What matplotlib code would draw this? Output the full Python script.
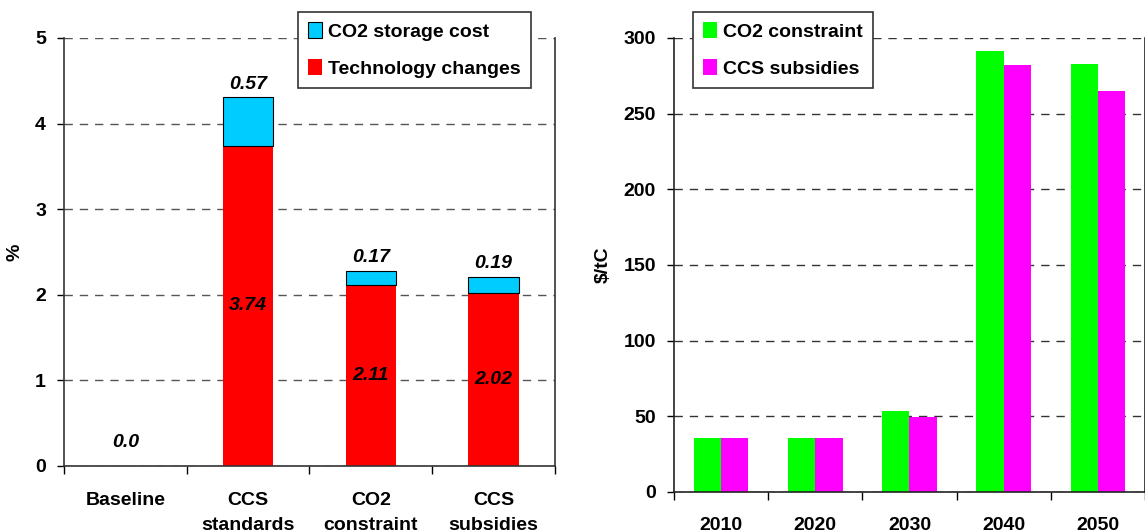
import numpy as np
import matplotlib
matplotlib.use("Agg")
import matplotlib.pyplot as plt
from matplotlib.ticker import FixedLocator

plt.rcParams["font.family"] = ["Liberation Sans", "DejaVu Sans"]
plt.rcParams["font.weight"] = "bold"
plt.rcParams["axes.labelweight"] = "bold"

# ── Data ─────────────────────────────────────────────────────────────────────

scenarios = ["Baseline", "CCS\nstandards", "CO2\nconstraint", "CCS\nsubsidies"]
tech_changes = [0.0, 3.74, 2.11, 2.02]
storage_cost = [0.0, 0.57, 0.17, 0.19]

years = ["2010", "2020", "2030", "2040", "2050"]
co2_constraint = [36, 36, 53.5, 291.5, 283]
ccs_subsidies = [36, 36, 49.5, 282, 265]

RED, CYAN, GREEN, MAGENTA = "#FF0000", "#00CCFF", "#00FF00", "#FF00FF"
FS = 14

fig = plt.figure(figsize=(11.45, 5.32), dpi=100)

# ── Left panel: stacked bars ────────────────────────────────────────────────

ax1 = fig.add_axes([0.0559, 0.1241, 0.4288, 0.8045])
x = np.arange(len(scenarios))
w = 0.41
ax1.bar(x, tech_changes, w, color=RED, label="Technology changes", zorder=3)
ax1.bar(x[1:], storage_cost[1:], w, bottom=tech_changes[1:], color=CYAN,
        edgecolor="black", linewidth=0.8, label="CO2 storage cost", zorder=3)

for i in x:
    if tech_changes[i] == 0:
        ax1.text(i, 0.28, f"{tech_changes[i]:.1f}", ha="center", va="center",
                 style="italic", fontsize=FS, zorder=4)
        continue
    ax1.text(i, tech_changes[i] / 2, f"{tech_changes[i]:.2f}", ha="center",
             va="center", style="italic", fontsize=FS, zorder=4)
    ax1.text(i, tech_changes[i] + storage_cost[i] + 0.15, f"{storage_cost[i]:.2f}",
             ha="center", va="center", style="italic", fontsize=FS, zorder=4)

ax1.set_xlim(-0.5, 3.5)
ax1.set_ylim(0, 5)
ax1.set_yticks(range(6))
ax1.set_ylabel("%", fontsize=FS)
ax1.yaxis.set_label_coords(-0.083, 0.5)
ax1.set_xticks(x)
ax1.set_xticklabels(scenarios, fontsize=FS, linespacing=1.6)
ax1.tick_params(axis="x", length=0, pad=19)
ax1.xaxis.set_minor_locator(FixedLocator(np.arange(-0.5, 4, 1)))
ax1.tick_params(axis="x", which="minor", length=6, width=1, direction="out")
ax1.tick_params(axis="y", length=5, width=1, labelsize=FS, pad=8)
ax1.yaxis.grid(True, linestyle=(0, (6, 5)), color="#555555", linewidth=1, zorder=0)
ax1.spines["top"].set_visible(False)
for s in ["left", "bottom", "right"]:
    ax1.spines[s].set_color("#333333")
    ax1.spines[s].set_linewidth(1.2)
ax1.spines["bottom"].set_zorder(5)

h, l = ax1.get_legend_handles_labels()
leg1 = ax1.legend(h[::-1], l[::-1], loc="upper left", bbox_to_anchor=(0.2603, 0.977),
                  bbox_transform=fig.transFigure, fontsize=FS, frameon=True,
                  fancybox=False, edgecolor="#333333", framealpha=1,
                  handlelength=0.75, handleheight=0.9, handletextpad=0.3,
                  borderpad=0.5, labelspacing=0.95, borderaxespad=0)
leg1.get_frame().set_linewidth(1.2)
leg1.set_zorder(10)

# ── Right panel: grouped bars ───────────────────────────────────────────────

ax2 = fig.add_axes([0.5886, 0.0752, 0.4114, 0.8534])
xx = np.arange(len(years))
bw = 0.29
ax2.bar(xx - bw / 2, co2_constraint, bw, color=GREEN, label="CO2 constraint", zorder=3)
ax2.bar(xx + bw / 2, ccs_subsidies, bw, color=MAGENTA, label="CCS subsidies", zorder=3)
ax2.set_xlim(-0.5, 4.5)
ax2.set_ylim(0, 300)
ax2.set_yticks(range(0, 301, 50))
ax2.set_ylabel("$/tC", fontsize=FS)
ax2.yaxis.set_label_coords(-0.132, 0.5)
ax2.set_xticks(xx)
ax2.set_xticklabels(years, fontsize=FS)
ax2.tick_params(axis="x", length=0, pad=18)
ax2.xaxis.set_minor_locator(FixedLocator(np.arange(-0.5, 5, 1)))
ax2.tick_params(axis="x", which="minor", length=6, width=1, direction="out")
ax2.tick_params(axis="y", length=5, width=1, labelsize=FS, pad=8)
ax2.yaxis.grid(True, linestyle=(0, (6, 5)), color="#333333", linewidth=1, zorder=0)
ax2.spines["top"].set_visible(False)
for s in ["left", "bottom", "right"]:
    ax2.spines[s].set_color("#222222")
    ax2.spines[s].set_linewidth(1.2)
ax2.spines["bottom"].set_zorder(5)

leg2 = ax2.legend(loc="upper left", bbox_to_anchor=(0.6052, 0.977),
                  bbox_transform=fig.transFigure, fontsize=FS, frameon=True,
                  fancybox=False, edgecolor="#333333", framealpha=1,
                  handlelength=0.75, handleheight=0.9, handletextpad=0.3,
                  borderpad=0.5, labelspacing=0.95, borderaxespad=0)
leg2.get_frame().set_linewidth(1.2)
leg2.set_zorder(10)

fig.savefig("out.png", dpi=100)
